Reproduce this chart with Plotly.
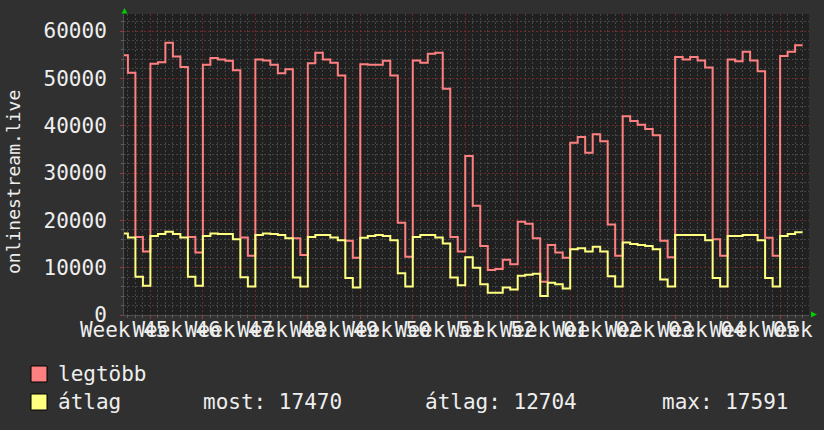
import plotly.graph_objects as go
import pandas as pd

# ---------------- data (daily values) ----------------
first_day = "2023-11-09"

legtobb = [
    54900, 51200, 16500, 13400,                      # Nov 9 - Nov 12
    53100, 53400, 57500, 54600, 52400, 16500, 13200,  # W46
    52900, 54300, 54000, 53700, 51700, 16400, 12500,  # W47
    54000, 53800, 52900, 51100, 51900, 16200, 12700,  # W48
    53200, 55400, 54000, 53300, 50600, 15700, 12100,  # W49
    53000, 52900, 52900, 53700, 50600, 19500, 12300,  # W50
    53800, 53300, 55200, 55400, 47800, 16500, 13400,  # W51
    33600, 23100, 14600, 9500, 9700, 11700, 10700,    # W52
    19700, 19300, 16200, 7000, 14800, 13200, 12100,   # W01
    36400, 37600, 34300, 38200, 36700, 19100, 12500,  # W02
    42000, 41000, 40200, 39300, 38000, 15700, 12200,  # W03
    54500, 54000, 54500, 53800, 52300, 16000, 12500,  # W04
    54000, 53600, 55600, 53800, 51500, 16300, 12500,  # W05
    54700, 55600, 57000,                              # W06
]

atlag = [
    17200, 16400, 8100, 6200,
    16700, 17100, 17591, 17100, 16400, 8100, 6200,
    16700, 17200, 17100, 17100, 16000, 8000, 6000,
    16900, 17200, 17100, 16900, 16200, 7900, 6000,
    16500, 16900, 16900, 16400, 15800, 7800, 5800,
    16300, 16700, 16900, 16700, 15800, 8800, 6000,
    16500, 16900, 16900, 16400, 15100, 7900, 6300,
    12200, 10000, 6500, 4700, 4700, 5800, 5400,
    8300, 8500, 8700, 4000, 6800, 6500, 5600,
    13900, 14100, 13400, 14400, 13400, 8200, 6000,
    15300, 15000, 14800, 14600, 13900, 7500, 6000,
    16900, 16900, 16900, 16900, 15800, 7800, 6000,
    16700, 16700, 16900, 16900, 15800, 7800, 6000,
    16700, 17100, 17470,
]

series_names = ["legtöbb", "átlag"]
series_colors = ["#ff8080", "#ffff80"]
stat_labels = ["most", "átlag", "max"]
stat_values = [17470, 12704, 17591]
y_title = "onlinestream.live"

# ---------------- layout geometry ----------------
W, H = 824, 430
L, R, T, B = 124, 15, 14, 115
PW, PH = W - L - R, H - T - B


def px(x):
    return (x - L) / PW


def py(y):
    return (H - B - y) / PH


FONT = "DejaVu Sans Mono"
TXT = "#eeeeee"
FS = 21

# step lines: each value holds for one whole day
days = pd.date_range(first_day, periods=len(legtobb) + 1, freq="D")

fig = go.Figure()
for name, vals, col in zip(series_names, [legtobb, atlag], series_colors):
    fig.add_trace(go.Scatter(
        x=days, y=list(vals) + [vals[-1]], mode="lines", name=name,
        line=dict(color=col, width=2, shape="hv"), showlegend=False,
        hoverinfo="skip"))

major_grid = "rgba(125,42,42,0.9)"
minor_grid = "#454545"

fig.update_xaxes(
    type="date",
    range=["2023-11-09 11:30", "2024-02-08 20:30"],
    tick0="2023-11-13", dtick=7 * 86400000,
    ticklabelmode="period", tickformat="Week %V", tickangle=0,
    ticklabeloverflow="allow", ticklabelstandoff=-7,
    ticks="outside", ticklen=3, tickcolor="#a03535",
    showgrid=True, gridcolor=major_grid, griddash="2px,2px", gridwidth=1,
    minor=dict(dtick=86400000, tick0="2023-11-13", showgrid=True,
               gridcolor=minor_grid, griddash="2px,2px",
               ticks="outside", ticklen=2, tickcolor="#606060"),
    tickfont=dict(family=FONT, size=FS, color=TXT),
    showline=True, linecolor="#505050", zeroline=False, fixedrange=True,
)

fig.update_yaxes(
    range=[0, 63600], dtick=10000, tick0=0, tickformat="d",
    ticks="outside", ticklen=3, tickcolor="#a03535",
    ticklabelstandoff=9,
    showgrid=True, gridcolor=major_grid, griddash="2px,2px", gridwidth=1,
    minor=dict(dtick=2000, showgrid=True, gridcolor=minor_grid,
               griddash="2px,2px", ticks="outside", ticklen=2,
               tickcolor="#606060"),
    tickfont=dict(family=FONT, size=FS, color=TXT),
    showline=True, linecolor="#505050", zeroline=False, fixedrange=True,
)

shapes = []
# green axis arrows
shapes.append(dict(type="path", xref="paper", yref="paper",
                   path=f"M {px(121.5)} {py(13.5)} L {px(127.5)} {py(13.5)} L {px(124.5)} {py(8)} Z",
                   fillcolor="#00cc00", line=dict(width=0)))
shapes.append(dict(type="path", xref="paper", yref="paper",
                   path=f"M {px(811)} {py(311.5)} L {px(811)} {py(317.5)} L {px(817)} {py(314.5)} Z",
                   fillcolor="#00cc00", line=dict(width=0)))

annotations = [dict(text=y_title, textangle=-90, xref="paper", yref="paper",
                    x=px(13), y=py(182), xanchor="center", yanchor="middle",
                    showarrow=False,
                    font=dict(family=FONT, size=18, color=TXT))]

legend_rows = [374, 402]
for name, col, yy in zip(series_names, series_colors, legend_rows):
    shapes.append(dict(type="rect", xref="paper", yref="paper",
                       x0=px(31), x1=px(47), y0=py(yy - 8), y1=py(yy + 8),
                       fillcolor=col, line=dict(color="#000000", width=1)))
    annotations.append(dict(text=name, xref="paper", yref="paper",
                            x=px(56), y=py(yy), xanchor="left", yanchor="middle",
                            showarrow=False,
                            font=dict(family=FONT, size=FS, color=TXT)))

stat_x = [201, 423, 660]
for lab, val, xx in zip(stat_labels, stat_values, stat_x):
    annotations.append(dict(text=f"{lab}: {val}", xref="paper", yref="paper",
                            x=px(xx), y=py(legend_rows[1]), xanchor="left",
                            yanchor="middle", showarrow=False,
                            font=dict(family=FONT, size=FS, color=TXT)))

fig.update_layout(
    width=W, height=H,
    margin=dict(l=L, r=R, t=T, b=B, autoexpand=False),
    paper_bgcolor="#303030", plot_bgcolor="#202020",
    shapes=shapes, annotations=annotations,
    showlegend=False,
)

fig.write_html(
    "out.html",
    config={"displayModeBar": False},
    post_script="document.body.style.margin='0';"
                "document.body.style.background='#303030';",
)
